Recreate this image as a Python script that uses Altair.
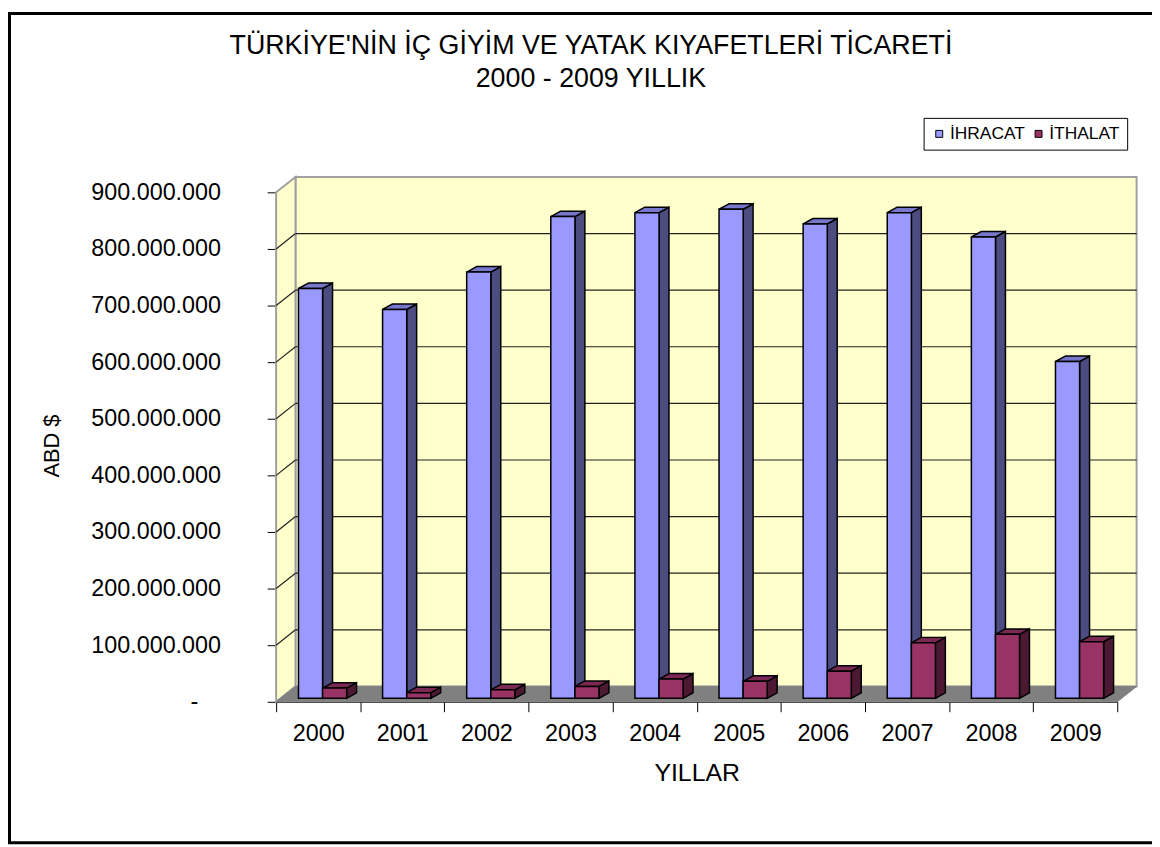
import json
import altair as alt
import pandas as pd

# ---------------- data ----------------
years = ["2000", "2001", "2002", "2003", "2004", "2005", "2006", "2007", "2008", "2009"]
ihracat = [724e6, 687e6, 753e6, 851e6, 858e6, 864e6, 838e6, 858e6, 815e6, 595e6]
ithalat = [18e6, 10e6, 15e6, 21e6, 34e6, 30e6, 48e6, 98e6, 113e6, 100e6]
series_names = ["İHRACAT", "İTHALAT"]
y_ticks = [0, 1e8, 2e8, 3e8, 4e8, 5e8, 6e8, 7e8, 8e8, 9e8]

title_lines = ["TÜRKİYE'NİN İÇ GİYİM VE YATAK KIYAFETLERİ TİCARETİ", "2000 - 2009 YILLIK"]

# ---------------- style / geometry ----------------
FONT = "Liberation Sans"
W, H = 847, 513
YMAX = 9e8
NCAT = len(years)
ux = NCAT / W          # x data units per pixel
uy = YMAX / H          # y data units per pixel
WALL_DX, WALL_DY = 19.5, 15.5   # depth of walls (px)
BAR_DX, BAR_DY = 10.0, 5.5      # depth of bars (px)
BASE = 3.5                      # bars sit slightly back on the floor (px)
bar_px = {"İHRACAT": (22.5, 46.8), "İTHALAT": (46.8, 71.0)}
colors = {
    "İHRACAT": {"front": "#9999FF", "side": "#4C4C80", "top": "#7777CC"},
    "İTHALAT": {"front": "#993366", "side": "#4C1933", "top": "#7A2952"},
}

wdx, wdy = WALL_DX * ux, WALL_DY * uy
bdx, bdy = BAR_DX * ux, BAR_DY * uy
base = BASE * uy

values = {"İHRACAT": ihracat, "İTHALAT": ithalat}
front_rows, side_rows, top_rows = [], [], []
for s in series_names:
    a, b = bar_px[s]
    for i, (yr, v) in enumerate(zip(years, values[s])):
        x0, x1 = i + a * ux, i + b * ux
        y0, y1 = base, base + v
        bid = f"{s}-{yr}"
        front_rows.append(dict(series=s, year=yr, value=v, x0=x0, x1=x1, y0=y0, y1=y1))
        side_rows.append(dict(series=s, bid=bid, x=x1, lo=y0, hi=y1))
        side_rows.append(dict(series=s, bid=bid, x=x1 + bdx, lo=y0 + bdy, hi=y1 + bdy))
        top_rows.append(dict(series=s, bid=bid, y=y1, xl=x0, xr=x1))
        top_rows.append(dict(series=s, bid=bid, y=y1 + bdy, xl=x0 + bdx, xr=x1 + bdx))
front = pd.DataFrame(front_rows)
side = pd.DataFrame(side_rows)
top = pd.DataFrame(top_rows)

wall = pd.DataFrame([dict(x0=wdx, x1=NCAT + wdx, y0=wdy, y1=YMAX + wdy)])
left_wall = pd.DataFrame([dict(x=0, lo=0, hi=YMAX), dict(x=wdx, lo=wdy, hi=YMAX + wdy)])
floor = pd.DataFrame([dict(y=0, xl=0, xr=NCAT), dict(y=wdy, xl=wdx, xr=NCAT + wdx)])
grid = pd.DataFrame([dict(t=t, tb=t + wdy, x0=0, xw=wdx, xe=NCAT + wdx) for t in y_ticks[1:-1]])

xs = alt.Scale(domain=[0, NCAT], nice=False, zero=False)
ys = alt.Scale(domain=[0, YMAX], nice=False, zero=False)

label_expr_x = f"datum.value < {NCAT} ? {json.dumps(years)}[datum.value] : ''"
label_expr_y = ("datum.value == 0 ? '-' : "
                "replace(format(datum.value, ','), regexp(',', 'g'), '.')")

x_axis = alt.Axis(values=list(range(NCAT + 1)), labelExpr=label_expr_x, labelOffset=W / NCAT / 2,
                  labelFlush=False, labelOverlap=False, labelFontSize=23.5, labelPadding=10,
                  tickSize=10, tickColor="black", domainColor="black", grid=False,
                  title="YILLAR", titleFontSize=25, titleFontWeight="normal", titlePadding=16)
y_axis = alt.Axis(values=y_ticks, labelExpr=label_expr_y, labelFontSize=23.5,
                  labelPadding={"condition": {"test": "datum.value == 0", "value": 70}, "value": 47},
                  tickSize=9, tickColor="black", domainColor="black", grid=False,
                  title="ABD $", titleFontSize=22, titleFontWeight="normal",
                  titleX=-226, titleY=255, titleAlign="center", titleBaseline="middle")


def X(field, **kw):
    return alt.X(field, scale=xs, axis=x_axis, **kw)


def Y(field, **kw):
    return alt.Y(field, scale=ys, axis=y_axis, **kw)


back_wall = alt.Chart(wall).mark_rect(fill="#FFFFCC", stroke="#A0A0A0", strokeWidth=2).encode(
    x=X("x0:Q"), x2="x1:Q", y=Y("y0:Q"), y2="y1:Q")

lwall = alt.Chart(left_wall).mark_area(fill="#FFFFCC", stroke="#A0A0A0", strokeWidth=2,
                                       orient="vertical").encode(
    x=X("x:Q"), y=Y("lo:Q", stack=None), y2="hi:Q")

floor_l = alt.Chart(floor).mark_area(fill="#808080", stroke="#808080", strokeWidth=1,
                                     orient="horizontal").encode(
    y=Y("y:Q"), x=X("xl:Q", stack=None), x2="xr:Q")

grid_back = alt.Chart(grid).mark_rule(color="#222222", strokeWidth=1.2).encode(
    x=X("xw:Q"), x2="xe:Q", y=Y("tb:Q"))

grid_left = alt.Chart(grid).mark_rule(color="#222222", strokeWidth=1.2).encode(
    x=X("x0:Q"), x2="xw:Q", y=Y("t:Q"), y2="tb:Q")

bar_layers = []
for s in series_names:
    c = colors[s]
    bar_layers.append(
        alt.Chart(side[side.series == s]).mark_area(
            fill=c["side"], stroke="black", strokeWidth=1.5, orient="vertical").encode(
            x=X("x:Q"), y=Y("lo:Q", stack=None), y2="hi:Q", detail="bid:N"))
    bar_layers.append(
        alt.Chart(top[top.series == s]).mark_area(
            fill=c["top"], stroke="black", strokeWidth=1.5, orient="horizontal").encode(
            y=Y("y:Q"), x=X("xl:Q", stack=None), x2="xr:Q", detail="bid:N"))
    bar_layers.append(
        alt.Chart(front[front.series == s]).mark_rect(stroke="black", strokeWidth=1.5).encode(
            x=X("x0:Q"), x2="x1:Q", y=Y("y0:Q"), y2="y1:Q",
            color=alt.Color("series:N",
                            scale=alt.Scale(domain=series_names,
                                            range=[colors[n]["front"] for n in series_names]),
                            legend=alt.Legend(title=None, orient="none", legendX=652, legendY=-75,
                                              direction="horizontal", symbolType="square",
                                              symbolSize=49, symbolStrokeColor="black",
                                              symbolStrokeWidth=1, labelFontSize=17.5,
                                              labelFont=FONT, labelOffset=2, columnPadding=4,
                                              strokeColor="black", padding=7,
                                              fillColor="white"))))

frame = alt.Chart(pd.DataFrame({"k": [0]})).mark_rect(
    filled=False, stroke="black", strokeWidth=3).encode(
    x=alt.value(-268.5), x2=alt.value(900),
    y=alt.value(-180), y2=alt.value(655))

chart = alt.layer(back_wall, lwall, floor_l, grid_back, grid_left, *bar_layers, frame).properties(
    width=W, height=H,
    autosize=alt.AutoSizeParams(type="none"),
    padding={"left": 270, "top": 182.7, "right": 35, "bottom": 143.3},
    title=alt.Title(text=title_lines, fontSize=27, font=FONT, fontWeight="normal",
                    color="black", anchor="middle", dx=-106.5, lineHeight=33,
                    baseline="bottom", offset=0, dy=108),
).configure(font=FONT, background="white").configure_view(strokeWidth=0).configure_axis(
    labelFont=FONT, titleFont=FONT, labelColor="black", titleColor="black")

chart.save("out.html", embed_options={"renderer": "svg", "actions": False})
